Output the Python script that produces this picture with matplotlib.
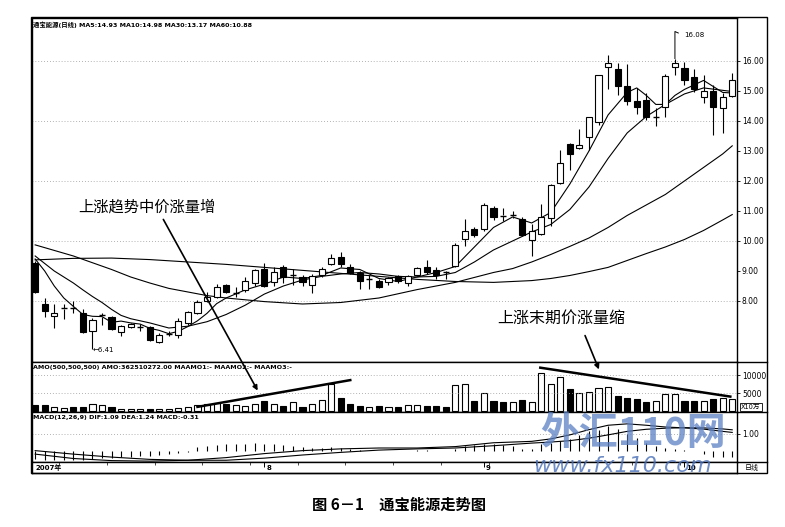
import matplotlib.pyplot as plt
from matplotlib.patches import Rectangle, FancyArrowPatch
from matplotlib.lines import Line2D

plt.rcParams['font.family'] = ['DejaVu Sans', 'Noto Sans CJK SC']

# daily candles (price)
opens = [9.27, 7.90, 7.50, 7.72, 7.80, 7.60, 7.00, 7.48, 7.47, 6.97,
         7.13, 7.13, 7.13, 6.63, 6.90, 6.87, 7.27, 7.60, 8.00, 8.13,
         8.53, 8.27, 8.37, 8.60, 9.07, 8.63, 9.13, 8.87, 8.80, 8.53,
         8.87, 9.23, 9.47, 9.13, 8.93, 8.72, 8.67, 8.63, 8.83, 8.60,
         8.87, 9.13, 9.03, 8.97, 9.17, 10.07, 10.40, 10.40, 11.10, 10.85,
         10.83, 10.73, 10.03, 10.23, 10.77, 11.93, 13.23, 13.10, 13.47, 13.97,
         15.80, 15.73, 15.17, 14.67, 14.70, 14.12, 14.47, 15.80, 15.77, 15.47,
         14.80, 15.00, 14.43, 14.83]
highs = [9.32, 8.10, 7.90, 7.90, 8.00, 7.73, 7.43, 7.60, 7.50, 7.20,
         7.27, 7.23, 7.15, 6.93, 7.00, 7.43, 7.67, 8.03, 8.30, 8.55,
         8.57, 8.47, 8.80, 9.07, 9.27, 9.13, 9.20, 9.07, 8.87, 8.90,
         9.13, 9.57, 9.63, 9.23, 9.00, 8.87, 8.73, 8.80, 8.87, 8.87,
         9.13, 9.37, 9.13, 9.00, 9.93, 10.73, 10.47, 11.27, 11.17, 11.10,
         11.00, 10.80, 10.57, 11.23, 11.90, 13.03, 13.27, 13.73, 14.13, 15.53,
         16.20, 15.93, 15.90, 15.10, 14.93, 14.43, 15.55, 16.08, 15.97, 15.73,
         15.53, 15.20, 14.93, 15.60]
lows = [8.25, 7.47, 7.10, 7.40, 7.60, 6.93, 6.41, 7.20, 7.03, 6.83,
        7.10, 7.00, 6.68, 6.60, 6.83, 6.77, 7.20, 7.55, 7.95, 8.10,
        8.25, 8.13, 8.30, 8.50, 8.45, 8.50, 8.60, 8.53, 8.50, 8.27,
        8.80, 9.20, 9.13, 8.90, 8.40, 8.40, 8.43, 8.53, 8.60, 8.50,
        8.83, 8.90, 8.73, 8.73, 9.13, 9.83, 10.13, 10.33, 10.70, 10.67,
        10.77, 10.17, 9.50, 10.20, 10.50, 11.90, 12.37, 13.07, 13.03, 13.87,
        15.07, 14.87, 14.53, 14.23, 14.03, 13.83, 14.13, 15.53, 15.20, 14.97,
        14.60, 13.53, 13.60, 14.80]
closes = [8.30, 7.67, 7.60, 7.75, 7.78, 6.97, 7.37, 7.52, 7.07, 7.17,
          7.23, 7.14, 6.70, 6.87, 6.91, 7.33, 7.63, 7.97, 8.13, 8.47,
          8.30, 8.28, 8.67, 9.03, 8.50, 8.97, 8.80, 8.88, 8.63, 8.83,
          9.07, 9.43, 9.23, 8.93, 8.67, 8.74, 8.47, 8.77, 8.67, 8.83,
          9.10, 8.97, 8.87, 8.96, 9.87, 10.33, 10.20, 11.20, 10.80, 10.83,
          10.85, 10.20, 10.33, 10.80, 11.87, 12.60, 12.90, 13.20, 14.13, 15.53,
          15.93, 15.17, 14.67, 14.47, 14.13, 14.14, 15.50, 15.93, 15.37, 15.07,
          15.00, 14.47, 14.80, 15.37]

# turnover (x10万)
volumes = [1800, 1700, 1000, 800, 1000, 1200, 1900, 1700, 1100, 600,
           600, 500, 700, 500, 700, 900, 1200, 1700, 2000, 2200,
           2000, 1800, 1500, 2000, 2700, 2000, 1400, 2500, 1200, 2100,
           3000, 7500, 3700, 2000, 1300, 1100, 1300, 1100, 1000, 1600,
           1700, 1400, 1400, 1100, 7200, 7500, 2900, 5200, 2900, 2500,
           2500, 3200, 2500, 10700, 7500, 9500, 6100, 5200, 5400, 6600,
           6800, 4300, 3700, 3300, 2400, 2700, 4900, 4800, 2900, 2700,
           2900, 3500, 3600, 3400]

# moving averages (day index, price)
ma5_idx = [0, 1, 2, 3, 4, 5, 6, 7, 8, 9, 10, 11, 12, 13, 14, 15, 16, 17, 18, 19,
           20, 22, 24, 26, 28, 30, 32, 34, 36, 38, 40, 42, 44, 46, 48, 50, 52, 54,
           56, 58, 60, 62, 63, 64, 65, 66, 67, 68, 70, 71, 72, 73]
ma5_val = [9.40, 9.00, 8.50, 8.10, 7.82, 7.55, 7.49, 7.48, 7.29, 7.33, 7.27, 7.23,
           7.09, 7.02, 6.91, 6.99, 7.15, 7.34, 7.59, 7.91, 8.10, 8.37, 8.56, 8.80,
           8.75, 8.85, 9.10, 9.05, 8.75, 8.65, 8.80, 8.95, 9.15, 9.80, 10.45, 10.80,
           10.60, 10.95, 11.90, 13.00, 14.20, 14.95, 15.10, 14.85, 14.55, 14.55,
           14.85, 15.05, 15.35, 15.15, 14.95, 14.93]
ma10_idx = [0, 2, 4, 5, 6, 7, 8, 9, 10, 12, 14, 16, 18, 20, 22, 24, 26, 28, 30, 32,
            34, 36, 38, 40, 42, 44, 46, 48, 50, 52, 54, 56, 58, 60, 62, 64, 66, 68,
            70, 72, 73]
ma10_val = [9.50, 9.00, 8.60, 8.37, 8.15, 7.95, 7.72, 7.52, 7.41, 7.27, 7.10, 7.16,
            7.31, 7.55, 7.86, 8.23, 8.50, 8.70, 8.82, 8.90, 8.95, 8.90, 8.82, 8.80,
            8.82, 8.95, 9.30, 9.70, 10.00, 10.30, 10.55, 11.05, 11.80, 12.75, 13.60,
            14.15, 14.55, 14.90, 15.10, 15.02, 14.98]
ma30_idx = [0, 4, 8, 10, 12, 14, 16, 18, 20, 24, 28, 32, 36, 40, 44, 48, 50, 52, 54,
            56, 58, 60, 62, 64, 66, 68, 70, 72, 73]
ma30_val = [9.87, 9.50, 9.05, 8.80, 8.60, 8.42, 8.30, 8.18, 8.10, 7.98, 7.90, 7.95,
            8.10, 8.38, 8.62, 8.95, 9.08, 9.30, 9.55, 9.82, 10.10, 10.45, 10.85,
            11.20, 11.55, 12.00, 12.45, 12.90, 13.17]
ma60_idx = [0, 4, 8, 12, 16, 20, 24, 28, 32, 36, 40, 44, 48, 52, 54, 56, 58, 60, 62,
            64, 66, 68, 70, 72, 73]
ma60_val = [9.37, 9.42, 9.43, 9.38, 9.30, 9.22, 9.12, 9.02, 8.92, 8.82, 8.72, 8.65,
            8.62, 8.68, 8.75, 8.85, 8.98, 9.12, 9.35, 9.58, 9.80, 10.05, 10.35,
            10.70, 10.88]

# MACD histogram and lines
macd_hist = [-0.45, -0.5, -0.5, -0.5, -0.5, -0.5, -0.45, -0.4, -0.35, -0.3,
             -0.3, -0.25, -0.25, -0.2, -0.15, -0.1, -0.05, 0.25, 0.3, 0.35,
             0.4, 0.45, 0.45, 0.5, 0.45, 0.4, 0.35, 0.3, 0.25, 0.2,
             0.2, 0.25, 0.2, 0.15, 0.1, 0.05, 0.05, 0.05, 0.05, 0.05,
             0.1, 0.1, 0.05, 0.05, 0.15, 0.3, 0.35, 0.45, 0.45, 0.35,
             0.3, 0.15, 0.15, 0.4, 0.5, 0.6, 0.7, 0.95, 1.15, 1.25,
             1.45, 1.3, 1.0, 0.75, 0.5, 0.3, 0.2, 0.15, 0.1, 0.0,
             -0.15, -0.3, -0.3, -0.31]
macd_idx = [0, 4, 8, 12, 16, 20, 24, 28, 32, 36, 40, 44, 48, 52, 54, 56, 58, 60, 62,
            64, 66, 68, 70, 72, 73]
dif_val = [-0.15, -0.40, -0.52, -0.55, -0.50, -0.35, -0.12, 0.05, 0.15, 0.20, 0.20,
           0.28, 0.50, 0.58, 0.72, 0.95, 1.25, 1.50, 1.58, 1.50, 1.40, 1.35, 1.28,
           1.15, 1.09]
dea_val = [0.05, -0.15, -0.32, -0.45, -0.50, -0.50, -0.38, -0.20, -0.05, 0.08, 0.15,
           0.20, 0.33, 0.48, 0.54, 0.62, 0.76, 0.95, 1.15, 1.27, 1.33, 1.36, 1.35,
           1.29, 1.24]

price_ticks = [8, 9, 10, 11, 12, 13, 14, 15, 16]
month_idx = [24, 47, 68]
month_labels = ['8', '9', '10']

W, H = 785, 527


def fx(x):
    return x / W


def fy(y):
    return 1 - y / H


fig = plt.figure(figsize=(7.85, 5.27), dpi=100)


def panel(top, bottom):
    a = fig.add_axes([fx(32), fy(bottom), fx(737) - fx(32), (bottom - top) / H])
    a.set_xlim(-0.33, 73.5)
    a.set_xticks([])
    for s in a.spines.values():
        s.set_linewidth(1.0)
    return a


ax = panel(18, 362)
axv = panel(362, 412)
axm = panel(412, 462)
axd = panel(462, 473)

dots = (0, (1, 2.5))
n = len(closes)
days = list(range(n))
up = [c >= o for o, c in zip(opens, closes)]

# --- price panel ---
ax.set_ylim(5.967, 17.43)
ax.hlines([8, 10, 12, 14, 16], -0.33, 73.5, colors='#999999', linestyles=dots, lw=0.6)
ax.plot(ma5_idx, ma5_val, color='black', lw=0.8)
ax.plot(ma10_idx, ma10_val, color='black', lw=0.8)
ax.plot(ma30_idx, ma30_val, color='black', lw=0.8)
ax.plot(ma60_idx, ma60_val, color='black', lw=0.8)

for i in days:
    o, h, l, c = opens[i], highs[i], lows[i], closes[i]
    top, bot = max(o, c), min(o, c)
    ax.vlines(i, top, h, color='black', lw=0.8, zorder=3)
    ax.vlines(i, l, bot, color='black', lw=0.8, zorder=3)
    if top - bot < 0.04:
        ax.hlines(c, i - 0.32, i + 0.32, color='black', lw=1.0, zorder=3)
    else:
        ax.bar(i, top - bot, bottom=bot, width=0.64,
               color='white' if up[i] else 'black', edgecolor='black',
               lw=0.8, zorder=4)

ax.text(6, lows[6] - 0.05, '←6.41', fontsize=5, va='center', ha='left')
ax.plot([67, 67, 67.35], [highs[67], 16.98, 16.93], color='black', lw=0.7)
ax.text(68.0, 16.88, '16.08', fontsize=5, va='center', ha='left')

ax.yaxis.tick_right()
ax.set_yticks(price_ticks)
ax.set_yticklabels([f'{p:.2f}' for p in price_ticks])
ax.tick_params(axis='y', labelsize=5.5, length=2, width=0.6, pad=1.5)

# --- volume panel ---
axv.set_ylim(-282, 13800)
axv.hlines([5000, 10000], -0.33, 73.5, colors='#999999', linestyles=dots, lw=0.6)
axv.bar(days, volumes, width=0.64,
        color=['white' if u else 'black' for u in up], edgecolor='black', lw=0.8)
axv.plot([17, 33], [1160, 8700], color='black', lw=1.8)
axv.plot([52.9, 72.8], [12200, 4060], color='black', lw=1.8)
axv.yaxis.tick_right()
axv.set_yticks([5000, 10000])
axv.set_yticklabels(['5000', '10000'])
axv.tick_params(axis='y', labelsize=5.5, length=2, width=0.6, pad=1.5)

# --- MACD panel ---
axm.set_ylim(-0.6, 2.257)
axm.hlines([1.0], -0.33, 73.5, colors='#999999', linestyles=dots, lw=0.6)
axm.vlines(days, 0, macd_hist, color='black', lw=0.8)
axm.plot(macd_idx, dif_val, color='black', lw=0.8)
axm.plot(macd_idx, dea_val, color='black', lw=0.8)
axm.yaxis.tick_right()
axm.set_yticks([1.0])
axm.set_yticklabels(['1.00'])
axm.tick_params(axis='y', labelsize=5.5, length=2, width=0.6, pad=1.5)

# --- date row ---
axd.set_ylim(0, 1)
axd.set_yticks([])
axd.vlines(month_idx, 0.55, 1, color='black', lw=0.7)
axd.vlines([i + 0.5 for i in range(2, 72, 5)], 0.75, 1, color='black', lw=0.5)
for m, lab in zip(month_idx, month_labels):
    axd.text(m + 0.2, 0.45, lab, fontsize=5, fontweight='bold', va='center', ha='left')
axd.text(0, 0.45, '2007年', fontsize=5, fontweight='bold', va='center', ha='left')

# --- outer frame and right column ---
fig.add_artist(Rectangle((fx(31), fy(473)), fx(767) - fx(31), (473 - 17) / H,
                         transform=fig.transFigure, fill=False, lw=1.0, ec='black'))
for yy in (362, 412, 462):
    fig.add_artist(Line2D([fx(737), fx(767)], [fy(yy), fy(yy)],
                          transform=fig.transFigure, color='black', lw=1.0))
fig.text(fx(741), fy(406.5), 'X10万', fontsize=4.8, va='center', ha='left',
         bbox=dict(boxstyle='square,pad=0.15', fc='white', ec='black', lw=0.6))
fig.text(fx(752), fy(467.5), '日线', fontsize=5, va='center', ha='center')

# --- panel headers ---
fig.text(fx(33), fy(25), '通宝能源(日线) MA5:14.93 MA10:14.98 MA30:13.17 MA60:10.88',
         fontsize=4.6, fontweight='bold', va='center', ha='left')
fig.text(fx(33), fy(367), 'AMO(500,500,500) AMO:362510272.00 MAAMO1:- MAAMO2:- MAAMO3:-',
         fontsize=4.6, fontweight='bold', va='center', ha='left')
fig.text(fx(33), fy(417), 'MACD(12,26,9) DIF:1.09 DEA:1.24 MACD:-0.31',
         fontsize=4.6, fontweight='bold', va='center', ha='left')

# --- annotations ---
cjk = ['Noto Sans CJK SC', 'DejaVu Sans']
fig.text(fx(78), fy(207), '上涨趋势中价涨量增', fontsize=11, family=cjk, va='center')
fig.text(fx(497), fy(318), '上涨末期价涨量缩', fontsize=11.5, family=cjk, va='center')
fig.add_artist(FancyArrowPatch((fx(162), fy(217)), (fx(259), fy(393)),
                               transform=fig.transFigure, arrowstyle='-|>',
                               mutation_scale=7, lw=1.2, color='black'))
fig.add_artist(FancyArrowPatch((fx(584), fy(333)), (fx(600), fy(372)),
                               transform=fig.transFigure, arrowstyle='-|>',
                               mutation_scale=7, lw=1.2, color='black'))

# watermark
fig.text(fx(540), fy(433), '外汇110网', fontsize=28, family=cjk, color='#5b80c4',
         alpha=0.75, style='italic', fontweight='bold', va='center', ha='left')
fig.text(fx(533), fy(466), 'www.fx110.com', fontsize=16, color='#4a70b8',
         alpha=0.8, style='italic', va='center', ha='left')

# caption
fig.text(fx(399), fy(505), '图 6－1　通宝能源走势图', fontsize=11, family=cjk,
         fontweight='bold', va='center', ha='center')

fig.savefig('out.png', dpi=100)
